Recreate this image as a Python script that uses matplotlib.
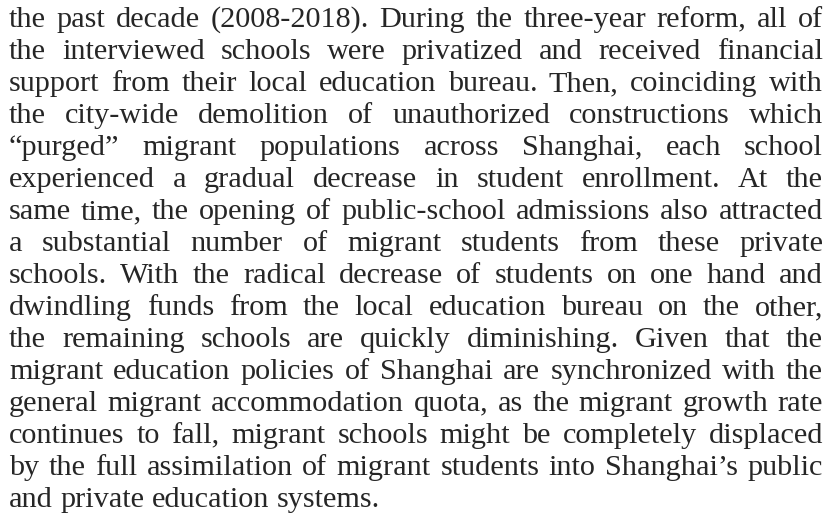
import matplotlib
matplotlib.use("Agg")
import matplotlib.pyplot as plt

# Text lines of the paragraph, as set in the reference
lines = [
    "the past decade (2008-2018). During the three-year reform, all of",
    "the interviewed schools were privatized and received financial",
    "support from their local education bureau. Then, coinciding with",
    "the city-wide demolition of unauthorized constructions which",
    "\u201cpurged\u201d migrant populations across Shanghai, each school",
    "experienced a gradual decrease in student enrollment. At the",
    "same time, the opening of public-school admissions also attracted",
    "a substantial number of migrant students from these private",
    "schools. With the radical decrease of students on one hand and",
    "dwindling funds from the local education bureau on the other,",
    "the remaining schools are quickly diminishing. Given that the",
    "migrant education policies of Shanghai are synchronized with the",
    "general migrant accommodation quota, as the migrant growth rate",
    "continues to fall, migrant schools might be completely displaced",
    "by the full assimilation of migrant students into Shanghai\u2019s public",
    "and private education systems.",
]

W, H = 831, 515
left, right = 9, 823
first_base, line_step = 27, 32.0
font = dict(family="Liberation Serif", size=21.8, color="#262626")

fig = plt.figure(figsize=(W / 100, H / 100), dpi=100)
ax = fig.add_axes([0, 0, 1, 1])
ax.set_xlim(0, W)
ax.set_ylim(H, 0)
ax.axis("off")

renderer = fig.canvas.get_renderer()


def text_width(s):
    t = ax.text(0, 0, s, **font)
    w = t.get_window_extent(renderer).width
    t.remove()
    return w


space_w = text_width("a b") - text_width("ab")

# justified lines, last one set flush left
for i, line in enumerate(lines):
    y = first_base + i * line_step
    words = line.split(" ")
    widths = [text_width(w) for w in words]
    if i < len(lines) - 1 and len(words) > 1:
        gap = (right - left - sum(widths)) / (len(words) - 1)
    else:
        gap = space_w
    x = left
    for w, wd in zip(words, widths):
        ax.text(x, y, w, ha="left", va="baseline", **font)
        x += wd + gap

fig.savefig("out.png", dpi=100, facecolor="white")
